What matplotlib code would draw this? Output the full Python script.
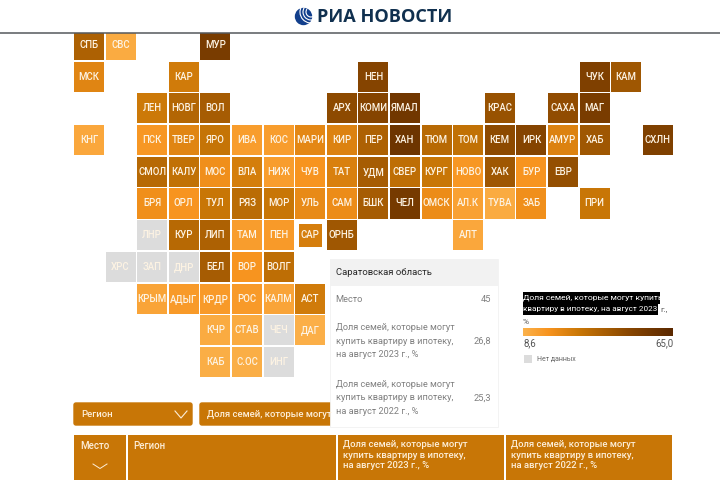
import numpy as np
import matplotlib
matplotlib.use('Agg')
import matplotlib.pyplot as plt
from matplotlib.colors import LinearSegmentedColormap, Normalize
from matplotlib.patches import Rectangle, FancyBboxPatch, Circle, Arc

plt.rcParams['font.family'] = ['Roboto', 'DejaVu Sans']

# tile map, one list per row, '' is an empty cell
row_labels = [
    ['СПБ', 'СВС', '', '', 'МУР', '', '', '', '', '', '', '', '', '', '', '', '', '', ''],
    ['МСК', '', '', 'КАР', '', '', '', '', '', 'НЕН', '', '', '', '', '', '', 'ЧУК', 'КАМ', ''],
    ['', '', 'ЛЕН', 'НОВГ', 'ВОЛ', '', '', '', 'АРХ', 'КОМИ', 'ЯМАЛ', '', '', 'КРАС', '', 'САХА', 'МАГ', '', ''],
    ['КНГ', '', 'ПСК', 'ТВЕР', 'ЯРО', 'ИВА', 'КОС', 'МАРИ', 'КИР', 'ПЕР', 'ХАН', 'ТЮМ', 'ТОМ', 'КЕМ', 'ИРК', 'АМУР', 'ХАБ', '', 'СХЛН'],
    ['', '', 'СМОЛ', 'КАЛУ', 'МОС', 'ВЛА', 'НИЖ', 'ЧУВ', 'ТАТ', 'УДМ', 'СВЕР', 'КУРГ', 'НОВО', 'ХАК', 'БУР', 'ЕВР', '', '', ''],
    ['', '', 'БРЯ', 'ОРЛ', 'ТУЛ', 'РЯЗ', 'МОР', 'УЛЬ', 'САМ', 'БШК', 'ЧЕЛ', 'ОМСК', 'АЛ.К', 'ТУВА', 'ЗАБ', '', 'ПРИ', '', ''],
    ['', '', 'ЛНР', 'КУР', 'ЛИП', 'ТАМ', 'ПЕН', 'САР', 'ОРНБ', '', '', '', 'АЛТ', '', '', '', '', '', ''],
    ['', 'ХРС', 'ЗАП', 'ДНР', 'БЕЛ', 'ВОР', 'ВОЛГ', '', '', '', '', '', '', '', '', '', '', '', ''],
    ['', '', 'КРЫМ', 'АДЫГ', 'КРДР', 'РОС', 'КАЛМ', 'АСТ', '', '', '', '', '', '', '', '', '', '', ''],
    ['', '', '', '', 'КЧР', 'СТАВ', 'ЧЕЧ', 'ДАГ', '', '', '', '', '', '', '', '', '', '', ''],
    ['', '', '', '', 'КАБ', 'С.ОС', 'ИНГ', '', '', '', '', '', '', '', '', '', '', '', ''],
]

# share of families in 2023, estimated from tile colour
region_values = {
    'СПБ': 38, 'СВС': 11, 'МУР': 54, 'МСК': 24, 'КАР': 28, 'НЕН': 50, 'ЧУК': 52, 'КАМ': 42,
    'ЛЕН': 29, 'НОВГ': 36, 'ВОЛ': 40, 'АРХ': 47, 'КОМИ': 50, 'ЯМАЛ': 57, 'КРАС': 44, 'САХА': 46, 'МАГ': 54,
    'КНГ': 12, 'ПСК': 17, 'ТВЕР': 24, 'ЯРО': 31, 'ИВА': 15, 'КОС': 15, 'МАРИ': 23, 'КИР': 25, 'ПЕР': 38,
    'ХАН': 58, 'ТЮМ': 35, 'ТОМ': 32, 'КЕМ': 47, 'ИРК': 50, 'АМУР': 25, 'ХАБ': 42, 'СХЛН': 52,
    'СМОЛ': 35, 'КАЛУ': 32, 'МОС': 20, 'ВЛА': 27, 'НИЖ': 15, 'ЧУВ': 18, 'ТАТ': 26, 'УДМ': 40, 'СВЕР': 33,
    'КУРГ': 30, 'НОВО': 17, 'ХАК': 42, 'БУР': 18, 'ЕВР': 45,
    'БРЯ': 20, 'ОРЛ': 18, 'ТУЛ': 30, 'РЯЗ': 34, 'МОР': 30, 'УЛЬ': 22, 'САМ': 21, 'БШК': 40, 'ЧЕЛ': 55,
    'ОМСК': 21, 'АЛ.К': 14, 'ТУВА': 11, 'ЗАБ': 20, 'ПРИ': 30,
    'КУР': 35, 'ЛИП': 38, 'ТАМ': 15, 'ПЕН': 16, 'САР': 26.8, 'ОРНБ': 42, 'АЛТ': 12,
    'БЕЛ': 40, 'ВОР': 18, 'ВОЛГ': 33, 'КРЫМ': 13, 'АДЫГ': 16, 'КРДР': 16, 'РОС': 16, 'КАЛМ': 13, 'АСТ': 28,
    'КЧР': 11, 'СТАВ': 11, 'ДАГ': 9.5, 'КАБ': 10, 'С.ОС': 10,
}
no_data = ['ЛНР', 'ХРС', 'ЗАП', 'ДНР', 'ЧЕЧ', 'ИНГ']

vmin = 8.6
vmax = 65.0
min_label = '8,6'
max_label = '65,0'

tooltip_title = 'Саратовская область'
tooltip_place = 45
tooltip_2023 = '26,8'
tooltip_2022 = '25,3'
share_2023 = 'Доля семей, которые могут\nкупить квартиру в ипотеку,\nна август 2023 г., %'
share_2022 = 'Доля семей, которые могут\nкупить квартиру в ипотеку,\nна август 2022 г., %'

ORANGE = '#c87606'
W = 720
H = 480

cmap = LinearSegmentedColormap.from_list('ria', [
    (0.0, '#fbb24c'), (0.17, '#f7931e'), (0.38, '#c87606'), (0.7, '#8a4700'), (1.0, '#5a2800')])
norm = Normalize(vmin, vmax)

fig = plt.figure(figsize=(7.2, 4.8), dpi=100, facecolor='white')


def px_axes(left, top, right, bottom):
    return fig.add_axes([left / W, 1 - bottom / H, (right - left) / W, (bottom - top) / H])


# map axes in grid units, top row is cut by the header line
pitch_x = 31.6
pitch_y = 31.7
map_left = 73.2
map_top = 29.15
clip_top = 33
map_ax = px_axes(map_left, clip_top, map_left + 19 * pitch_x, map_top + 11 * pitch_y)
map_ax.set_xlim(0, 19)
map_ax.set_ylim(11, (clip_top - map_top) / pitch_y)
map_ax.axis('off')

for r, labels in enumerate(row_labels):
    for c, name in enumerate(labels):
        if not name:
            continue
        if name in no_data:
            color = '#dcdcdc'
        else:
            color = cmap(norm(region_values[name]))
        inset = 0.14 if name == 'САР' else 0.025
        map_ax.add_patch(Rectangle((c + inset, r + inset), 1 - 2 * inset, 1 - 2 * inset, fc=color, ec='none'))
        map_ax.text(c + 0.5, r + 0.5, name, color='#fdf3e3', fontsize=6.9, fontweight='medium',
                    ha='center', va='center')

# everything else is page furniture, drawn in pixels
ax = fig.add_axes([0, 0, 1, 1], facecolor='none')
ax.set_xlim(0, W)
ax.set_ylim(H, 0)
ax.axis('off')

# header
ax.plot([0, W], [33, 33], color='#55585c', lw=1.1)
ax.add_patch(Circle((303.5, 16.5), 8.7, fc='#123f8c', ec='none'))
for rad in [5, 8, 11]:
    ax.add_patch(Arc((311, 12), rad * 2, rad * 2, theta1=60, theta2=215, color='white', lw=0.8))
ax.text(317, 16.5, 'РИА НОВОСТИ', color='#10304f', fontsize=13.1, fontweight='bold',
        family=['Open Sans', 'DejaVu Sans'], ha='left', va='center')

# dropdowns
for x0, x1 in [(73, 193), (199, 340)]:
    ax.add_patch(FancyBboxPatch((x0 + 1, 403), x1 - x0 - 2, 22, boxstyle='round,pad=0,rounding_size=2',
                                fc=ORANGE, ec=ORANGE, lw=1))
ax.text(81, 414.5, 'Регион', color='#fdeed8', fontsize=6.8, fontweight='medium', va='center')
ax.text(207, 414.5, 'Доля семей, которые могут', color='#fdeed8', fontsize=6.8, fontweight='medium', va='center')
ax.plot([175, 181, 187], [411, 418, 411], color='#fdeed8', lw=0.8)

# table head
for x0, x1 in [(74, 126), (128, 336), (338, 504), (506, 672)]:
    ax.add_patch(Rectangle((x0, 435), x1 - x0, 45, fc=ORANGE, ec='none'))
ax.text(80, 446, 'Место', color='#fdeed8', fontsize=7, fontweight='medium', va='center')
ax.text(133, 446, 'Регион', color='#fdeed8', fontsize=7, fontweight='medium', va='center')
ax.text(343, 455, share_2023, color='#fdeed8', fontsize=6.8, fontweight='medium', va='center', linespacing=1.15)
ax.text(511, 455, share_2022, color='#fdeed8', fontsize=6.8, fontweight='medium', va='center', linespacing=1.15)
ax.plot([93, 100, 107], [464, 468.5, 464], color='#fdeed8', lw=0.7)

# tooltip
ax.add_patch(Rectangle((330, 259), 168, 168, fc='white', ec='#f1f1f1', lw=0.6))
ax.add_patch(Rectangle((330, 259), 168, 27, fc='#f2f2f2', ec='none'))
ax.text(335.5, 272.5, tooltip_title, color='#2a2a2a', fontsize=6.8, va='center')
ax.text(335.5, 299, 'Место', color='#808080', fontsize=6.7, va='center')
ax.text(491, 299, str(tooltip_place), color='#808080', fontsize=6.7, va='center', ha='right')
ax.text(335.5, 341, share_2023, color='#808080', fontsize=6.6, va='center', linespacing=1.7)
ax.text(491, 341, tooltip_2023, color='#808080', fontsize=6.7, va='center', ha='right')
ax.text(335.5, 398, share_2022, color='#808080', fontsize=6.6, va='center', linespacing=1.7)
ax.text(491, 398, tooltip_2022, color='#808080', fontsize=6.7, va='center', ha='right')

# legend
ax.add_patch(Rectangle((523, 292), 137, 11.5, fc='black', ec='none'))
ax.add_patch(Rectangle((523, 303.5), 135, 11.5, fc='black', ec='none'))
ax.text(523, 298, 'Доля семей, которые могут купить', color='white', fontsize=6.1, va='center')
ax.text(523, 309.5, 'квартиру в ипотеку, на август 2023', color='white', fontsize=5.9, va='center')
ax.text(660, 309.5, 'г.,', color='#555555', fontsize=6.1, va='center')
ax.text(523, 321.5, '%', color='#555555', fontsize=6.1, va='center')
ax.text(523, 343, min_label, color='#555555', fontsize=6.9, va='center')
ax.text(673, 343, max_label, color='#555555', fontsize=6.9, va='center', ha='right')
ax.add_patch(Rectangle((524, 355), 8, 8, fc='#dcdcdc', ec='none'))
ax.text(537, 359.5, 'Нет данных', color='#666666', fontsize=5, va='center')

bar_ax = px_axes(523, 328, 673, 336.5)
bar_ax.imshow(np.linspace(vmin, vmax, 256).reshape(1, -1), cmap=cmap, norm=norm, aspect='auto')
bar_ax.axis('off')

fig.savefig('out.png', dpi=100)
